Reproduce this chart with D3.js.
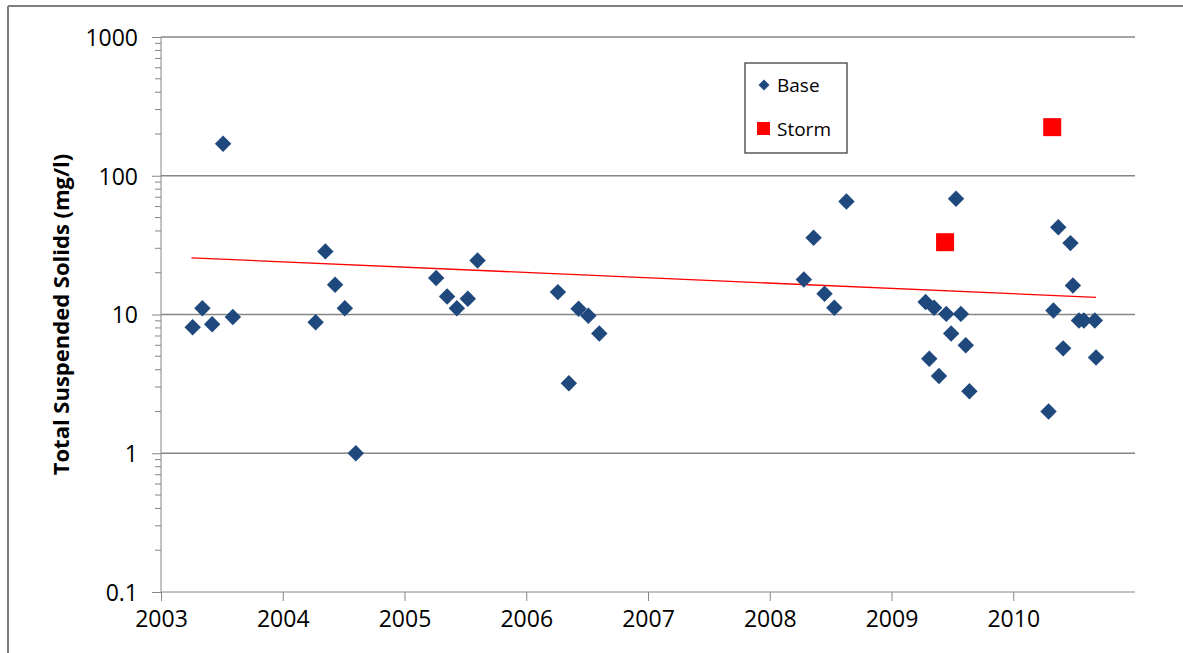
<!DOCTYPE html>
<html>
<head>
<meta charset="utf-8">
<script src="https://cdn.jsdelivr.net/npm/d3@7"></script>
<style>
  body { margin: 0; background: #fff; }
  text { font-family: "Open Sans", "Liberation Sans", sans-serif; fill: #000; }
  .axis path, .axis line { stroke: #868686; }
</style>
</head>
<body>
<div class="chart"></div>
<script>
// base samples (decimal year, mg/l)
const baseYears = [2003.26, 2003.34, 2003.42, 2003.51, 2003.59,
  2004.27, 2004.35, 2004.43, 2004.51, 2004.60,
  2005.26, 2005.35, 2005.43, 2005.52, 2005.60,
  2006.26, 2006.35, 2006.43, 2006.51, 2006.60,
  2008.28, 2008.36, 2008.45, 2008.53, 2008.63,
  2009.28, 2009.35, 2009.45, 2009.57, 2009.49, 2009.61, 2009.31, 2009.39, 2009.64, 2009.53,
  2010.29, 2010.33, 2010.37, 2010.41, 2010.47, 2010.49, 2010.54, 2010.58, 2010.67, 2010.68];
const baseValues = [8.1, 11.1, 8.5, 170, 9.6,
  8.8, 28.5, 16.4, 11.1, 1.0,
  18.3, 13.5, 11.1, 13.0, 24.5,
  14.5, 3.2, 11.0, 9.8, 7.3,
  17.9, 35.7, 14.1, 11.2, 65.3,
  12.3, 11.2, 10.1, 10.1, 7.3, 6.0, 4.8, 3.6, 2.8, 68.3,
  2.0, 10.7, 42.6, 5.7, 32.7, 16.2, 9.05, 9.05, 9.05, 4.9];
// storm samples
const stormYears = [2009.44, 2010.32];
const stormValues = [33.2, 224];
// trend line end points (exponential trend, as drawn)
const trendYears = [2003.25, 2010.68];
const trendValues = [25.6, 13.3];

const xTicks = [2003, 2004, 2005, 2006, 2007, 2008, 2009, 2010];
const yTicks = [0.1, 1, 10, 100, 1000];

const width = 1183;
const height = 653;
const margin = { left: 161, right: 48, top: 37, bottom: 61 };

const svg = d3.select('.chart').append('svg')
  .attr('width', width)
  .attr('height', height);

// outer frame (only top and left visible)
svg.append('line').attr('x1', 8).attr('x2', width).attr('y1', 6).attr('y2', 6)
  .attr('stroke', '#7f7f7f').attr('stroke-width', 2);
svg.append('line').attr('x1', 8).attr('x2', 8).attr('y1', 6).attr('y2', height)
  .attr('stroke', '#7f7f7f').attr('stroke-width', 2);

const x = d3.scaleLinear().domain([2003, 2011]).range([margin.left, width - margin.right]);
const y = d3.scaleLog().domain([0.1, 1000]).range([height - margin.bottom, margin.top]);

/* gridlines */
svg.append('g').selectAll('line')
  .data(yTicks.slice(1))
  .enter().append('line')
  .attr('x1', margin.left).attr('x2', width - margin.right)
  .attr('y1', d => y(d)).attr('y2', d => y(d))
  .attr('stroke', '#868686').attr('stroke-width', 1.3);

/* minor y ticks */
const minor = [];
for (let e = -1; e < 3; e++) {
  for (let m = 2; m <= 9; m++) minor.push(m * Math.pow(10, e));
}
svg.append('g').selectAll('line')
  .data(minor)
  .enter().append('line')
  .attr('x1', margin.left - 6).attr('x2', margin.left)
  .attr('y1', d => y(d)).attr('y2', d => y(d))
  .attr('stroke', '#868686');

/* y axis */
const yAxis = d3.axisLeft(y).tickValues(yTicks).tickFormat(d3.format('')).tickSize(9).tickPadding(14);
svg.append('g').attr('class', 'axis')
  .attr('transform', `translate(${margin.left},0)`)
  .call(yAxis)
  .call(g => g.select('.domain').attr('d', `M0,${y(1000)}V${y(0.1)}`))
  .selectAll('text').style('font-size', '23px').attr('dy', '0.36em');

/* x axis */
const xAxis = d3.axisBottom(x).tickValues(xTicks).tickFormat(d3.format('d')).tickSize(9).tickPadding(10);
svg.append('g').attr('class', 'axis')
  .attr('transform', `translate(0,${height - margin.bottom})`)
  .call(xAxis)
  .call(g => g.select('.domain').attr('d', `M${x(2003)},0H${x(2011)}`))
  .selectAll('text').style('font-size', '23px');

/* y title */
svg.append('text')
  .attr('transform', `translate(69,${(y(1000) + y(0.1)) / 2 + 0}) rotate(-90)`)
  .attr('text-anchor', 'middle')
  .style('font-size', '22px')
  .style('font-weight', 'bold')
  .text('Total Suspended Solids (mg/l)');

/* trend line */
svg.append('path')
  .datum(trendYears.map((d, i) => [d, trendValues[i]]))
  .attr('fill', 'none')
  .attr('stroke', '#ff0000')
  .attr('stroke-width', 1.3)
  .attr('d', d3.line().x(d => x(d[0])).y(d => y(d[1])));

/* base points */
const diamond = d3.symbol().type(d3.symbolSquare).size(135);
svg.append('g').selectAll('path')
  .data(baseYears.map((d, i) => [d, baseValues[i]]))
  .enter().append('path')
  .attr('d', diamond)
  .attr('fill', '#1f497d')
  .attr('transform', d => `translate(${x(d[0])},${y(d[1])}) rotate(45)`);

/* storm points */
svg.append('g').selectAll('rect')
  .data(stormYears.map((d, i) => [d, stormValues[i]]))
  .enter().append('rect')
  .attr('x', d => x(d[0]) - 9)
  .attr('y', d => y(d[1]) - 9)
  .attr('width', 18).attr('height', 18)
  .attr('fill', '#ff0000');

/* legend */
const legend = svg.append('g').attr('transform', 'translate(745,63)');
legend.append('rect')
  .attr('width', 102).attr('height', 90)
  .attr('fill', '#fff').attr('stroke', '#404040').attr('stroke-width', 1.3);
legend.append('path')
  .attr('d', d3.symbol().type(d3.symbolSquare).size(60))
  .attr('fill', '#1f497d')
  .attr('transform', 'translate(19,22) rotate(45)');
legend.append('rect')
  .attr('x', 12).attr('y', 59).attr('width', 13).attr('height', 13)
  .attr('fill', '#ff0000');
legend.append('text').attr('x', 32).attr('y', 22).attr('dy', '0.36em')
  .style('font-size', '19px').text('Base');
legend.append('text').attr('x', 32).attr('y', 66).attr('dy', '0.36em')
  .style('font-size', '19px').text('Storm');
</script>
</body>
</html>
